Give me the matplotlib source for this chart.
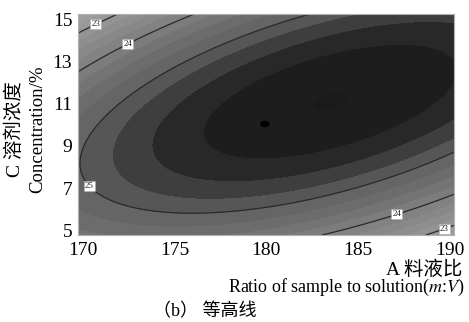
import numpy as np
import matplotlib.pyplot as plt
from matplotlib.colors import LinearSegmentedColormap
from matplotlib.patches import Ellipse

# quadratic response surface (coded: X=(A-180)/10, Y=(C-10)/5)
# order: b0, bA, bC, bAA, bCC, bAC  -- read back from the contour lines
coef = [25.932, 0.298, 0.184, -0.776, -1.283, 1.103]
a_center, a_step = 180, 10
c_center, c_step = 10, 5

line_levels = [23, 24, 25]
label_pos = [(170.54, 15.1), (189.67, 5.14), (172.34, 14.05), (187.06, 5.86), (170.54, 7.24)]
stationary = (179.92, 10.05)

x_ticks = [170, 175, 180, 185, 190]
y_ticks = [5, 7, 9, 11, 13, 15]
x_lim = (169.73, 190.22)
y_lim = (4.76, 15.29)

a = np.linspace(*x_lim, 400)
c = np.linspace(*y_lim, 400)
aa, cc = np.meshgrid(a, c)
X = (aa - a_center) / a_step
Y = (cc - c_center) / c_step
z = coef[0] + coef[1]*X + coef[2]*Y + coef[3]*X**2 + coef[4]*Y**2 + coef[5]*X*Y

plt.rcParams['font.family'] = ['Liberation Serif', 'Noto Sans CJK SC']
plt.rcParams['mathtext.fontset'] = 'stix'

fig = plt.figure(figsize=(4.69, 3.22), dpi=100)
ax = fig.add_axes([0.166, 0.270, 0.802, 0.687])

# gray shades, darker for higher response
vmin, vmax = 22.5, 26.0
anchors = [(22.5, 0.63), (23, 0.59), (24, 0.50), (25, 0.38), (25.25, 0.30),
           (25.5, 0.19), (25.75, 0.125), (26.0, 0.10)]
cmap = LinearSegmentedColormap.from_list(
    'gr', [((v - vmin) / (vmax - vmin), (g, g, g)) for v, g in anchors])
levels = np.arange(21.0, 26.3, 0.25)
ax.contourf(aa, cc, z, levels=levels, cmap=cmap, vmin=vmin, vmax=vmax, extend='both')

cs = ax.contour(aa, cc, z, levels=line_levels, colors='#2a2a2a', linewidths=0.9)
labels = ax.clabel(cs, fmt='%d', manual=label_pos, inline=False, fontsize=6.5)
for t in labels:
    t.set_rotation(0)
    t.set_color('#222222')
    t.set_zorder(6)
    t.set_bbox(dict(facecolor='white', edgecolor='#aaaaaa', pad=0.8, linewidth=0.4))

ax.add_patch(Ellipse(stationary, 0.44, 0.24, color='black', zorder=5))

ax.set_xlim(*x_lim)
ax.set_ylim(*y_lim)
ax.set_xticks(x_ticks)
ax.set_yticks(y_ticks)
ax.tick_params(axis='x', length=0, labelsize=14, pad=5)
ax.tick_params(axis='y', length=0, labelsize=14, pad=4)
for s in ax.spines.values():
    s.set_color('#b0b0b0')
    s.set_linewidth(0.8)

fig.text(0.032, 0.60, 'C 溶剂浓度', rotation=90, ha='center', va='center', fontsize=14)
fig.text(0.080, 0.60, 'Concentration/%', rotation=90, ha='center', va='center', fontsize=13.5)
fig.text(0.985, 0.163, 'A 料液比', ha='right', va='center', fontsize=14)
fig.text(0.992, 0.106, 'Ratio of sample to solution($m$:$V$)', ha='right', va='center', fontsize=13)
fig.text(0.437, 0.031, '（b） 等高线', ha='center', va='center', fontsize=13)

fig.savefig('out.png')
